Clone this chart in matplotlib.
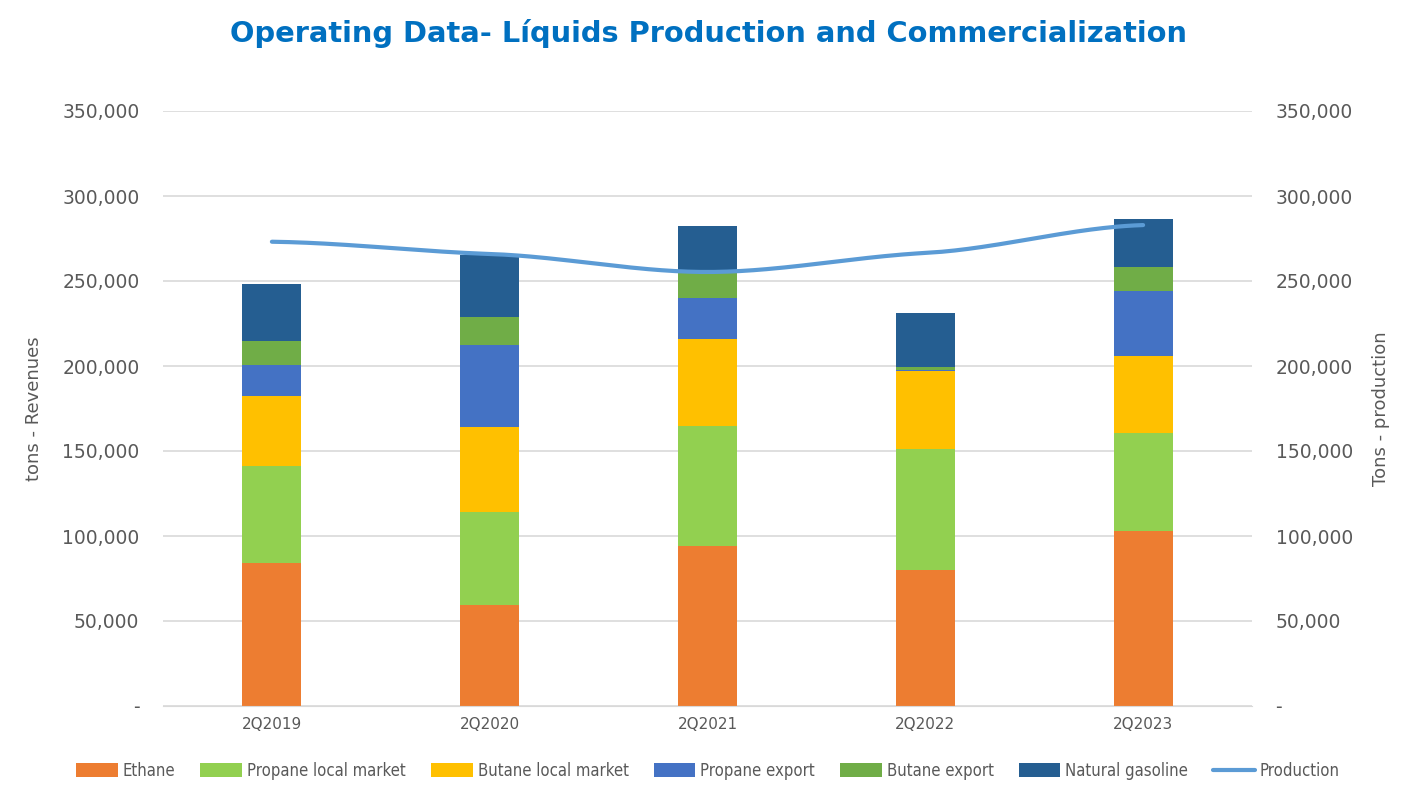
import matplotlib
matplotlib.use('Agg')
import matplotlib.pyplot as plt
from matplotlib.ticker import FuncFormatter
import numpy as np

quarters = ['2Q2019', '2Q2020', '2Q2021', '2Q2022', '2Q2023']
ethane = [84100, 59400, 94100, 80000, 102900]
propane_local = [57100, 54700, 70600, 71200, 57700]
butane_local = [41200, 50000, 51200, 45900, 45300]
propane_export = [18200, 48200, 24100, 500, 38200]
butane_export = [14100, 16500, 15300, 2000, 14100]
natural_gasoline = [33500, 36500, 27100, 31600, 28300]
production = [273100, 265900, 255300, 266500, 282900]

series = [
    ('Ethane', ethane, '#ED7D31'),
    ('Propane local market', propane_local, '#92D050'),
    ('Butane local market', butane_local, '#FFC000'),
    ('Propane export', propane_export, '#4472C4'),
    ('Butane export', butane_export, '#70AD47'),
    ('Natural gasoline', natural_gasoline, '#255E91'),
]

grey = '#595959'

def fmt(v, pos):
  if v == 0:
    return '-'
  return '{:,.0f}'.format(v)

def smooth(xp, yp, xs):
  # hermite spline through the points, like excel's smoothed line
  yp = np.array(yp, dtype=float)
  out = []
  n = len(xp)
  for xv in xs:
    i = min(int(np.floor(xv)), n - 2)
    t = xv - i
    p0 = yp[max(i-1, 0)]; p1 = yp[i]; p2 = yp[i+1]; p3 = yp[min(i+2, n-1)]
    m1 = (p2 - p0) / 2 * 0.5
    m2 = (p3 - p1) / 2 * 0.5
    h00 = 2*t**3 - 3*t**2 + 1; h10 = t**3 - 2*t**2 + t
    h01 = -2*t**3 + 3*t**2; h11 = t**3 - t**2
    out.append(h00*p1 + h10*m1 + h01*p2 + h11*m2)
  return np.array(out)

fig = plt.figure(figsize=(14.16, 8.02), dpi=100)
ax = fig.add_axes([163/1416, 1-706/802, 1089/1416, 595/802])
ax2 = ax.twinx()

x = np.arange(len(quarters))
bottom = np.zeros(len(quarters))
for name, vals, col in series:
  ax.bar(x, vals, 0.27, bottom=bottom, color=col, label=name, zorder=2)
  bottom += np.array(vals)

xs = np.linspace(0, 4, 200)
ax2.plot(xs, smooth(x, production, xs), color='#5B9BD5', lw=3, label='Production',
         solid_capstyle='round', zorder=3)

for a in (ax, ax2):
  a.set_ylim(0, 350000)
  a.set_yticks(np.arange(0, 350001, 50000))
  a.yaxis.set_major_formatter(FuncFormatter(fmt))
  a.tick_params(axis='y', length=0, labelsize=13.5, colors=grey, pad=17)
  for s in a.spines.values():
    s.set_visible(False)
ax.set_xlim(-0.5, 4.5)
ax.spines['bottom'].set_visible(True)
ax.spines['bottom'].set_color('#D9D9D9')
ax.set_xticks(x)
ax.set_xticklabels(quarters)
ax.tick_params(axis='x', length=0, labelsize=11, colors=grey, pad=8)
ax.yaxis.grid(True, color='#D9D9D9', lw=1.2, zorder=0)
ax.set_axisbelow(True)
ax.set_ylabel('tons - Revenues', fontsize=13, color=grey, labelpad=14)
ax2.set_ylabel('Tons - production', fontsize=13, color=grey, labelpad=14)

fig.text(0.5, 1-34/802, 'Operating Data- Líquids Production and Commercialization',
         ha='center', va='center', fontsize=20.8, fontweight='bold', color='#0070C0')

h1, l1 = ax.get_legend_handles_labels()
h2, l2 = ax2.get_legend_handles_labels()
fig.legend(h1 + h2, l1 + l2, loc='center', bbox_to_anchor=(0.5, 1-771/802), ncol=7,
           frameon=False, handlelength=2.5, handleheight=0.9,
           columnspacing=1.5, handletextpad=0.3, labelcolor=grey,
           prop={'family': 'DejaVu Sans', 'stretch': 'condensed', 'size': 12})

plt.savefig('out.png', dpi=100)
